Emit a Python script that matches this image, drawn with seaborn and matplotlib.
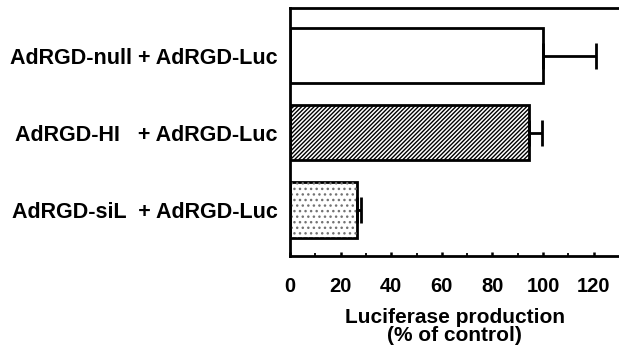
import numpy as np
import pandas as pd
import matplotlib
matplotlib.use("Agg")
import matplotlib.pyplot as plt
import seaborn as sns

# data
labels = ["AdRGD-null + AdRGD-Luc", "AdRGD-HI   + AdRGD-Luc", "AdRGD-siL  + AdRGD-Luc"]
values = [100, 94.5, 26.5]
errors = [21, 5, 1.5]
hatches = ["", "////////", "..."]
xticks = [0, 20, 40, 60, 80, 100, 120]

sns.set_theme(style="white")
plt.rcParams['font.family'] = ['Liberation Sans', 'DejaVu Sans']
plt.rcParams['font.weight'] = 'bold'
plt.rcParams['hatch.linewidth'] = 1.0
plt.rcParams['text.color'] = 'black'
plt.rcParams['axes.labelcolor'] = 'black'
plt.rcParams['xtick.color'] = 'black'
plt.rcParams['ytick.color'] = 'black'

df = pd.DataFrame({'label': labels, 'value': values})

fig = plt.figure(figsize=(6.19, 3.5), dpi=100)
ax = fig.add_axes([0.4685, 0.2686, 0.5315, 0.7086])

sns.barplot(data=df, x='value', y='label', orient='h', color='white',
            edgecolor='black', linewidth=2, width=0.72, saturation=1, ax=ax)

for i, p in enumerate(ax.patches):
    if hatches[i].startswith("/"):
        p.set_hatch(hatches[i])

# grey dotted fill for the last bar
pos = np.arange(len(values))
ax.barh(pos[2], values[2], height=0.72, fill=False, hatch=hatches[2],
        edgecolor='0.45', linewidth=0, zorder=1.5)

ax.errorbar(values, pos, xerr=[np.zeros(len(errors)), errors], fmt='none',
            ecolor='black', elinewidth=2, capsize=9.5, capthick=2, zorder=3)

ax.set_xlim(0, 130)
ax.set_ylim(2.6, -0.62)
ax.set_xticks(xticks)
ax.set_xticks(np.arange(10, 130, 20), minor=True)
ax.tick_params(axis='x', which='both', bottom=True, direction='in')
ax.tick_params(axis='x', which='major', length=3, width=1.8,
               pad=15, labelsize=14.5, labelcolor='black')
ax.tick_params(axis='x', which='minor', length=2, width=1.3)
ax.tick_params(axis='y', length=0, pad=9, labelsize=15.5, labelcolor='black')
ax.set_ylabel("")
ax.set_xlabel("Luciferase production\n(% of control)", fontsize=15,
              fontweight='bold', labelpad=9, linespacing=0.88, color='black')

for s in ['left', 'bottom', 'top']:
    ax.spines[s].set_linewidth(2)
    ax.spines[s].set_color('black')
ax.spines['right'].set_visible(False)

fig.savefig("out.png", dpi=100)
